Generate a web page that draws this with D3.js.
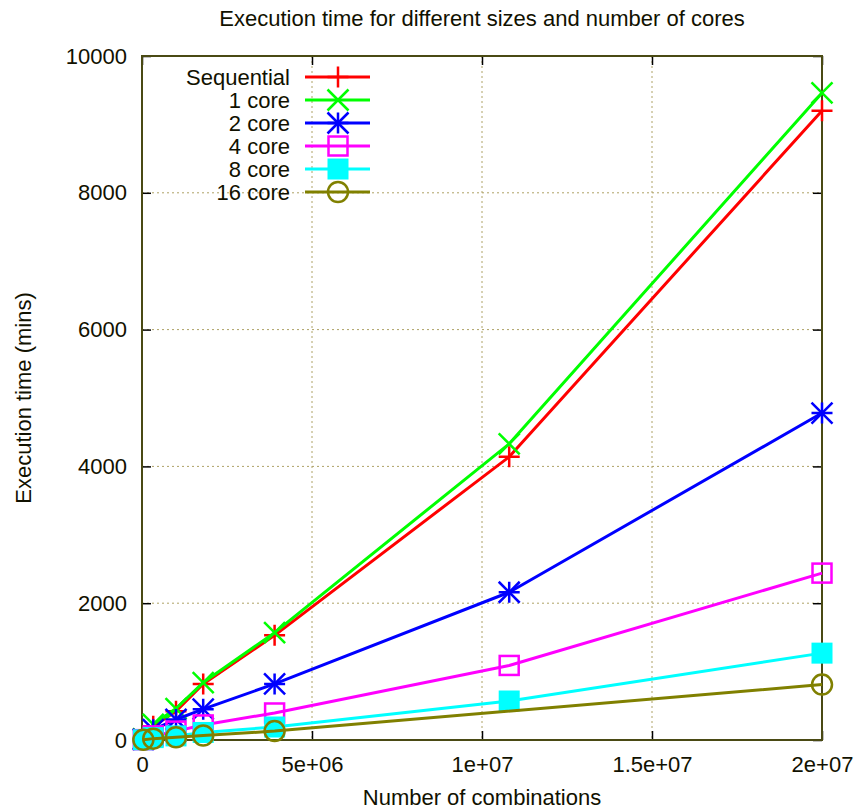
<!DOCTYPE html>
<html>
<head>
<meta charset="utf-8">
<script src="https://cdn.jsdelivr.net/npm/d3@7"></script>
<style>
    body { margin: 0; background: #fff; }
    text { font-family: "Liberation Sans", Arial, sans-serif; }
</style>
</head>
<body>
<svg id="drawing_region"></svg>
<script>
// number of combinations (x)
const sizes = [40000, 330000, 1000000, 1800000, 3900000, 10800000, 20000000];
// execution time in minutes for each run type
const sequential = [15, 200, 420, 820, 1530, 4140, 9200];
const core1 = [16, 230, 460, 840, 1570, 4330, 9460];
const core2 = [8, 150, 300, 450, 820, 2160, 4780];
const core4 = [5, 60, 130, 220, 395, 1090, 2440];
const core8 = [3, 35, 60, 110, 190, 570, 1270];
const core16 = [2, 20, 40, 65, 130, null, 810];

const seriesNames = ["Sequential", "1 core", "2 core", "4 core", "8 core", "16 core"];
const seriesValues = [sequential, core1, core2, core4, core8, core16];
const seriesColors = ["#ff0000", "#00ff00", "#0000ff", "#ff00ff", "#00ffff", "#808000"];
const seriesMarks = ["plus", "cross", "star", "box", "fbox", "circle"];

const xTicks = [0, 5e6, 1e7, 1.5e7, 2e7];
const xTickLabels = ["0", "5e+06", "1e+07", "1.5e+07", "2e+07"];
const yTicks = [0, 2000, 4000, 6000, 8000, 10000];

const title = "Execution time for different sizes and number of cores";
const xTitle = "Number of combinations";
const yTitle = "Execution time (mins)";

const width = 859, height = 809;
const pLeft = 142, pRight = 822, pTop = 56, pBottom = 740;
const ink = "#111100";
const borderColor = "#4a4a14";

const svg = d3.select("#drawing_region")
    .attr("width", width)
    .attr("height", height);

const x = d3.scaleLinear().domain([0, 2e7]).range([pLeft, pRight]);
const y = d3.scaleLinear().domain([0, 10000]).range([pBottom, pTop]);

// grid
const grid = svg.append("g")
    .attr("stroke", "#aea266")
    .attr("stroke-width", 1)
    .attr("stroke-dasharray", "2,3");
grid.selectAll("line.gy")
    .data(yTicks.slice(1, -1))
    .enter().append("line")
    .attr("x1", pLeft).attr("x2", pRight)
    .attr("y1", d => y(d)).attr("y2", d => y(d));
grid.selectAll("line.gx")
    .data(xTicks.slice(1, -1))
    .enter().append("line")
    .attr("x1", d => x(d)).attr("x2", d => x(d))
    .attr("y1", pTop).attr("y2", pBottom);

// axes (ticks point inward, mirrored on top / right)
svg.append("g")
    .attr("transform", `translate(0,${pBottom})`)
    .call(d3.axisBottom(x).tickValues(xTicks)
        .tickFormat((d, i) => xTickLabels[i])
        .tickSize(-9).tickPadding(16));
svg.append("g")
    .attr("transform", `translate(0,${pTop})`)
    .call(d3.axisTop(x).tickValues(xTicks).tickFormat("").tickSize(-9));
svg.append("g")
    .attr("transform", `translate(${pLeft},0)`)
    .call(d3.axisLeft(y).tickValues(yTicks).tickFormat(d3.format("d"))
        .tickSize(-9).tickPadding(15));
svg.append("g")
    .attr("transform", `translate(${pRight},0)`)
    .call(d3.axisRight(y).tickValues(yTicks).tickFormat("").tickSize(-9));

svg.selectAll(".domain").remove();
svg.selectAll(".tick line").attr("stroke", "#000").attr("stroke-width", 1.5);
svg.selectAll(".tick text")
    .attr("fill", ink)
    .style("font-size", "22px");

svg.append("rect")
    .attr("x", pLeft).attr("y", pTop)
    .attr("width", pRight - pLeft).attr("height", pBottom - pTop)
    .attr("fill", "none")
    .attr("stroke", borderColor)
    .attr("stroke-width", 2);

// point markers
function drawMark(g, type, color, cx, cy) {
    const r = 10.5;
    const s = g.append("g")
        .attr("transform", `translate(${cx},${cy})`)
        .attr("stroke", color)
        .attr("stroke-width", 2.5)
        .attr("fill", "none");
    if (type === "plus" || type === "star") {
        s.append("path").attr("d", `M${-r},0H${r}M0,${-r}V${r}`);
    }
    if (type === "cross" || type === "star") {
        s.append("path").attr("d", `M${-r},${-r}L${r},${r}M${-r},${r}L${r},${-r}`);
    }
    if (type === "box") {
        s.append("rect").attr("x", -r + 1).attr("y", -r + 1)
            .attr("width", 2 * r - 2).attr("height", 2 * r - 2);
    }
    if (type === "fbox") {
        s.append("rect").attr("x", -r).attr("y", -r)
            .attr("width", 2 * r).attr("height", 2 * r)
            .attr("fill", color).attr("stroke", "none");
    }
    if (type === "circle") {
        s.append("circle").attr("r", r - 0.5);
    }
}

const line = d3.line()
    .x(d => x(d.x))
    .y(d => y(d.v));

seriesNames.forEach((name, k) => {
    const pts = sizes.map((s, i) => ({ x: s, v: seriesValues[k][i] }))
        .filter(d => d.v != null);
    const g = svg.append("g");
    g.append("path")
        .datum(pts)
        .attr("d", line)
        .attr("fill", "none")
        .attr("stroke", seriesColors[k])
        .attr("stroke-width", 3)
        .attr("stroke-linejoin", "round");
    pts.forEach(d => drawMark(g, seriesMarks[k], seriesColors[k], x(d.x), y(d.v)));
});

// legend
const legend = svg.append("g");
seriesNames.forEach((name, k) => {
    const ly = 77 + k * 23;
    legend.append("text")
        .attr("x", 290).attr("y", ly)
        .attr("dy", "0.35em")
        .attr("text-anchor", "end")
        .attr("fill", ink)
        .style("font-size", "22px")
        .text(name);
    legend.append("line")
        .attr("x1", 305).attr("x2", 370)
        .attr("y1", ly).attr("y2", ly)
        .attr("stroke", seriesColors[k])
        .attr("stroke-width", 3);
    drawMark(legend, seriesMarks[k], seriesColors[k], 338, ly);
});

// titles
svg.append("text")
    .attr("x", (pLeft + pRight) / 2).attr("y", 26)
    .attr("text-anchor", "middle")
    .attr("fill", ink)
    .style("font-size", "22px")
    .text(title);
svg.append("text")
    .attr("x", (pLeft + pRight) / 2).attr("y", 805)
    .attr("text-anchor", "middle")
    .attr("fill", ink)
    .style("font-size", "22px")
    .text(xTitle);
svg.append("text")
    .attr("transform", `translate(31,${(pTop + pBottom) / 2}) rotate(-90)`)
    .attr("text-anchor", "middle")
    .attr("fill", ink)
    .style("font-size", "22px")
    .text(yTitle);
</script>
</body>
</html>
